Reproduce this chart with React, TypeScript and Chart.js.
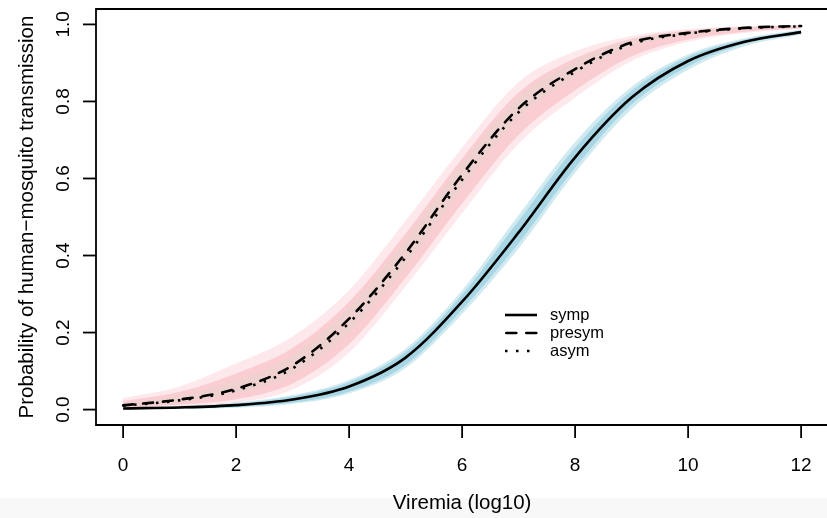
import React, { useEffect, useRef } from "react";
import { Chart, registerables } from "chart.js";

Chart.register(...registerables);

// Viremia (log10) grid
const viremia = [0, 1, 2, 3, 4, 5, 6, 7, 8, 9, 10, 11, 12];

// Main posterior curves
const sympCurve = [0.003, 0.0055, 0.0115, 0.026, 0.06, 0.135, 0.28, 0.46, 0.655, 0.81, 0.905, 0.955, 0.98];
const presymCurve = [0.011, 0.026, 0.054, 0.115, 0.236, 0.407, 0.61, 0.782, 0.884, 0.953, 0.978, 0.991, 0.996];
const asymCurve = [0.01, 0.024, 0.05, 0.107, 0.225, 0.395, 0.597, 0.772, 0.877, 0.949, 0.976, 0.99, 0.995];

// Spread of posterior sample curves (symp, light blue)
const sympOuterHi = [0.006, 0.01, 0.019, 0.038, 0.077, 0.158, 0.31, 0.505, 0.695, 0.838, 0.922, 0.964, 0.986];
const sympOuterLo = [0.0005, 0.002, 0.005, 0.015, 0.042, 0.108, 0.248, 0.418, 0.615, 0.78, 0.882, 0.943, 0.973];
const sympInnerHi = [0.005, 0.009, 0.016, 0.034, 0.071, 0.15, 0.298, 0.49, 0.68, 0.828, 0.916, 0.961, 0.984];
const sympInnerLo = [0.001, 0.003, 0.007, 0.018, 0.047, 0.116, 0.26, 0.432, 0.628, 0.792, 0.891, 0.949, 0.976];

// Spread of posterior sample curves (presym, pink)
const presymOuterHi = [0.03, 0.06, 0.12, 0.19, 0.31, 0.49, 0.68, 0.85, 0.93, 0.97, 0.988, 0.995, 0.998];
const presymOuterLo = [0.004, 0.009, 0.018, 0.052, 0.148, 0.32, 0.51, 0.69, 0.81, 0.905, 0.955, 0.978, 0.988];
const presymInnerHi = [0.022, 0.046, 0.094, 0.16, 0.28, 0.457, 0.652, 0.823, 0.912, 0.963, 0.984, 0.993, 0.997];
const presymInnerLo = [0.006, 0.013, 0.027, 0.068, 0.17, 0.342, 0.535, 0.713, 0.829, 0.917, 0.961, 0.981, 0.99];

// Spread of posterior sample curves (asym, light green)
const asymHi = [0.016, 0.036, 0.075, 0.14, 0.265, 0.44, 0.64, 0.81, 0.905, 0.96, 0.982, 0.992, 0.997];
const asymLo = [0.009, 0.02, 0.042, 0.09, 0.2, 0.37, 0.575, 0.755, 0.865, 0.942, 0.972, 0.988, 0.995];

// Axes
const xTickValues = [0, 2, 4, 6, 8, 10, 12];
const yTickValues = [0, 0.2, 0.4, 0.6, 0.8, 1.0];
const yTickLabels = ["0.0", "0.2", "0.4", "0.6", "0.8", "1.0"];
const xTitle = "Viremia (log10)";
const yTitle = "Probability of human\u2212mosquito transmission";
const legendLabels = ["symp", "presym", "asym"];

const FONT = '"Liberation Sans", Arial, Helvetica, sans-serif';

const pts = (ys: number[]) => viremia.map((x, i) => ({ x, y: ys[i] }));

const band = (hi: number[], lo: number[], color: string, order: number, label: string) => [
  {
    label: label + "-hi",
    data: pts(hi),
    borderWidth: 0,
    borderColor: "rgba(0,0,0,0)",
    backgroundColor: color,
    fill: "+1",
    pointRadius: 0,
    cubicInterpolationMode: "monotone",
    order,
  },
  {
    label: label + "-lo",
    data: pts(lo),
    borderWidth: 0,
    borderColor: "rgba(0,0,0,0)",
    backgroundColor: "rgba(0,0,0,0)",
    fill: false,
    pointRadius: 0,
    cubicInterpolationMode: "monotone",
    order,
  },
];

const mainLine = (ys: number[], dash: number[], cap: string, order: number, label: string) => ({
  label,
  data: pts(ys),
  borderColor: "#000",
  borderWidth: 2.6,
  borderDash: dash,
  borderCapStyle: cap,
  fill: false,
  pointRadius: 0,
  cubicInterpolationMode: "monotone",
  order,
});

const rAxesPlugin = {
  id: "rAxes",
  afterDraw(chart: any) {
    const { ctx, chartArea: a, scales } = chart;
    const xs = scales.x;
    const ys = scales.y;
    ctx.save();
    ctx.strokeStyle = "#000";
    ctx.fillStyle = "#000";
    ctx.lineWidth = 1.8;
    ctx.lineCap = "butt";
    ctx.setLineDash([]);
    // box (right side lies outside the picture)
    ctx.beginPath();
    ctx.moveTo(a.right + 5, a.top);
    ctx.lineTo(a.left, a.top);
    ctx.lineTo(a.left, a.bottom);
    ctx.lineTo(a.right + 5, a.bottom);
    ctx.stroke();

    // x ticks + labels
    ctx.font = "19px " + FONT;
    ctx.textAlign = "center";
    ctx.textBaseline = "alphabetic";
    xTickValues.forEach((v) => {
      const px = xs.getPixelForValue(v);
      ctx.beginPath();
      ctx.moveTo(px, a.bottom);
      ctx.lineTo(px, a.bottom + 13);
      ctx.stroke();
      ctx.fillText(String(v), px, a.bottom + 46);
    });

    // y ticks + rotated labels
    yTickValues.forEach((v, i) => {
      const py = ys.getPixelForValue(v);
      ctx.beginPath();
      ctx.moveTo(a.left, py);
      ctx.lineTo(a.left - 13, py);
      ctx.stroke();
      ctx.save();
      ctx.translate(a.left - 27, py);
      ctx.rotate(-Math.PI / 2);
      ctx.fillText(yTickLabels[i], 0, 0);
      ctx.restore();
    });

    // titles
    ctx.font = "20.5px " + FONT;
    const xMid = (xs.getPixelForValue(-0.48) + xs.getPixelForValue(12.48)) / 2;
    ctx.fillText(xTitle, xMid, 509);
    ctx.save();
    ctx.translate(33, (a.top + a.bottom) / 2);
    ctx.rotate(-Math.PI / 2);
    ctx.fillText(yTitle, 0, 0);
    ctx.restore();

    // legend (no box)
    const styles = [
      { dash: [], cap: "butt" },
      { dash: [10, 10], cap: "round" },
      { dash: [2.5, 8.5], cap: "butt" },
    ];
    const lx0 = 505;
    const lx1 = 537;
    const rows = [315, 333, 351];
    ctx.font = "16.5px " + FONT;
    ctx.textAlign = "left";
    ctx.textBaseline = "middle";
    legendLabels.forEach((lab, i) => {
      ctx.save();
      ctx.lineWidth = 2.6;
      ctx.setLineDash(styles[i].dash);
      ctx.lineCap = styles[i].cap;
      ctx.beginPath();
      ctx.moveTo(lx0 + (i === 1 ? 1.3 : 0), rows[i]);
      ctx.lineTo(lx1, rows[i]);
      ctx.stroke();
      ctx.restore();
      ctx.fillText(lab, 550, rows[i]);
    });
    ctx.restore();
  },
};

export default function App() {
  const ref = useRef<HTMLCanvasElement | null>(null);
  useEffect(() => {
    if (!ref.current) return;
    const datasets: any[] = [
      mainLine(sympCurve, [], "butt", 0, "symp"),
      mainLine(presymCurve, [10, 10], "round", 1, "presym"),
      mainLine(asymCurve, [2.5, 8.5], "butt", 2, "asym"),
      ...band(asymHi, asymLo, "rgba(200,228,196,0.22)", 3, "asymBand"),
      ...band(presymInnerHi, presymInnerLo, "rgba(248,196,202,0.75)", 4, "presymInner"),
      ...band(presymOuterHi, presymOuterLo, "rgba(252,214,220,0.55)", 5, "presymOuter"),
      ...band(sympInnerHi, sympInnerLo, "rgba(168,214,228,1)", 6, "sympInner"),
      ...band(sympOuterHi, sympOuterLo, "rgba(178,220,232,0.6)", 7, "sympOuter"),
    ];
    const chart = new Chart(ref.current, {
      type: "line",
      data: { datasets },
      options: {
        animation: false,
        responsive: false,
        devicePixelRatio: 1,
        layout: { padding: { left: 96, top: 9, right: 0, bottom: 93 } },
        plugins: {
          legend: { display: false },
          tooltip: { enabled: false },
          filler: { propagate: false },
        },
        scales: {
          x: { type: "linear", min: -0.48, max: 12.458, display: false },
          y: { type: "linear", min: -0.04, max: 1.04, display: false },
        },
      } as any,
      plugins: [rAxesPlugin],
    });
    return () => chart.destroy();
  }, []);
  return (
    <div
      style={{
        position: "fixed",
        left: 0,
        top: 0,
        width: 827,
        height: 518,
        background: "linear-gradient(#ffffff 0px, #ffffff 498px, #f8f8f8 498px)",
      }}
    >
      <canvas ref={ref} width={827} height={518} style={{ display: "block" }} />
    </div>
  );
}
